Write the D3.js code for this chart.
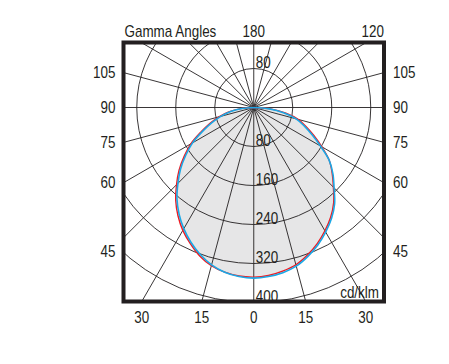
<!DOCTYPE html>
<html>
<head>
<meta charset="utf-8">
<script src="https://cdn.jsdelivr.net/npm/d3@7"></script>
<style>
  body { margin: 0; background: #fff; }
  text { font-family: "Liberation Sans", Arial, sans-serif; font-size: 16px; fill: #231f20; }
</style>
</head>
<body>
<svg width="449" height="364"></svg>
<script>
// gamma angles measured from the downward vertical
var gammas = [0, 5, 10, 15, 20, 25, 30, 35, 40, 45, 50, 55, 60, 65, 70, 75, 80, 85, 90];
// C90-C270 (blue) and C0-C180 (red), cd/klm
var blueRight = [350, 348, 344, 337, 325, 311, 295, 278, 258, 233, 212, 189, 158, 132, 110, 90, 62, 32, 0];
var blueLeft  = [350, 348, 343, 334, 321, 305, 287, 267, 245, 220, 196, 170, 145, 116, 92, 70, 48, 24, 0];
var redRight  = [348, 346, 341, 334, 322, 308, 292, 275, 255, 231, 210, 189, 161, 136, 114, 95, 67, 37, 0];
var redLeft   = [348, 347, 343, 336, 324, 308, 291, 271, 249, 224, 200, 174, 149, 120, 96, 74, 52, 27, 0];

var rings = [80, 160, 240, 320, 400];
var ringLabelsDown = [80, 160, 240, 320, 400];
var ringLabelsUp = [80];
var spokeStep = 15;
var sideLabels = [105, 90, 75, 60, 45];
var bottomLabels = [30, 15, 0, 15, 30];
var bottomSides = [-1, -1, 0, 1, 1];

var svg = d3.select("svg");
var box = { left: 123.5, right: 384, top: 42.5, bottom: 301.5 };
var cx = (box.left + box.right) / 2;
var cy = 107.5;
var squeeze = 0.84; // narrow type like the original

var r = d3.scaleLinear().domain([0, 400]).range([0, 195]);
var rad = function (deg) { return deg * Math.PI / 180; };

function label(sel, x, y, anchor) {
  return sel.attr("text-anchor", anchor || "start")
    .attr("transform", function (d, i) {
      var xx = typeof x === "function" ? x(d, i) : x;
      var yy = typeof y === "function" ? y(d, i) : y;
      return "translate(" + xx + "," + yy + ") scale(" + squeeze + ",1)";
    });
}

svg.append("rect").attr("width", 449).attr("height", 364).attr("fill", "#fff");

svg.append("clipPath").attr("id", "clip")
  .append("rect")
  .attr("x", box.left).attr("y", box.top)
  .attr("width", box.right - box.left).attr("height", box.bottom - box.top);

var plot = svg.append("g").attr("clip-path", "url(#clip)");
var g = plot.append("g").attr("transform", "translate(" + cx + "," + cy + ")");

// closed curve: left half from 90 down to 0, right half from 0 back up to 90
function curvePoints(left, right) {
  var pts = [];
  for (var i = gammas.length - 1; i >= 0; i--) pts.push({ a: Math.PI + rad(gammas[i]), v: left[i] });
  for (var j = 1; j < gammas.length; j++) pts.push({ a: Math.PI - rad(gammas[j]), v: right[j] });
  return pts;
}

var line = d3.lineRadial()
  .angle(function (d) { return d.a; })
  .radius(function (d) { return r(d.v); })
  .curve(d3.curveCatmullRom);

var blueData = curvePoints(blueLeft, blueRight);
var redData = curvePoints(redLeft, redRight);

g.append("path").datum(blueData).attr("d", line).attr("fill", "#e6e6e7").attr("stroke", "none");
g.append("path").datum(redData).attr("d", line).attr("fill", "#e6e6e7").attr("stroke", "none");

// grid
g.selectAll(".ring").data(rings).enter().append("circle")
  .attr("r", function (d) { return r(d); })
  .attr("fill", "none").attr("stroke", "#231f20").attr("stroke-width", 0.9);

g.selectAll(".spoke").data(d3.range(0, 360, spokeStep)).enter().append("line")
  .attr("x1", 0).attr("y1", 0)
  .attr("x2", function (d) { return 400 * Math.sin(rad(d)); })
  .attr("y2", function (d) { return 400 * Math.cos(rad(d)); })
  .attr("stroke", "#231f20").attr("stroke-width", 0.9);

g.append("path").datum(redData).attr("d", line).attr("fill", "none")
  .attr("stroke", "#ed1c24").attr("stroke-width", 1.4);
g.append("path").datum(blueData).attr("d", line).attr("fill", "none")
  .attr("stroke", "#1ba8e6").attr("stroke-width", 1.6);

// ring labels
label(g.selectAll(".rl").data(ringLabelsDown).enter().append("text"),
  2, function (d) { return r(d) - 1; }).text(function (d) { return d; });
label(g.selectAll(".ru").data(ringLabelsUp).enter().append("text"),
  2, function (d) { return -r(d) - 0.5; }).text(function (d) { return d; });

// frame
svg.append("rect")
  .attr("x", box.left).attr("y", box.top)
  .attr("width", box.right - box.left).attr("height", box.bottom - box.top)
  .attr("fill", "none").attr("stroke", "#231f20").attr("stroke-width", 4);

// side labels where the gamma lines meet the frame
var halfW = cx - box.left;
function sideY(d) {
  if (d === 90) return cy;
  var y = cy + halfW / Math.tan(rad(d));
  if (d <= 45) y += 13; // kept clear of the lower corner
  return y;
}
label(svg.selectAll(".sl").data(sideLabels).enter().append("text"),
  box.left - 8, function (d) { return sideY(d); }, "end")
  .attr("dy", "0.36em").text(function (d) { return d; });
label(svg.selectAll(".sr").data(sideLabels).enter().append("text"),
  box.right + 9, function (d) { return sideY(d); }, "start")
  .attr("dy", "0.36em").text(function (d) { return d; });

// bottom labels
var halfH = box.bottom - cy;
label(svg.selectAll(".bl").data(bottomLabels).enter().append("text"),
  function (d, i) { return cx + bottomSides[i] * halfH * Math.tan(rad(d)); },
  box.bottom + 21, "middle").text(function (d) { return d; });

// top row
label(svg.append("text"), box.left + 1, 37).text("Gamma Angles");
label(svg.append("text"), cx, 37, "middle").text("180");
label(svg.append("text"), box.right, 37, "end").text("120");
label(svg.append("text"), box.right - 5, 298, "end").text("cd/klm");
</script>
</body>
</html>
